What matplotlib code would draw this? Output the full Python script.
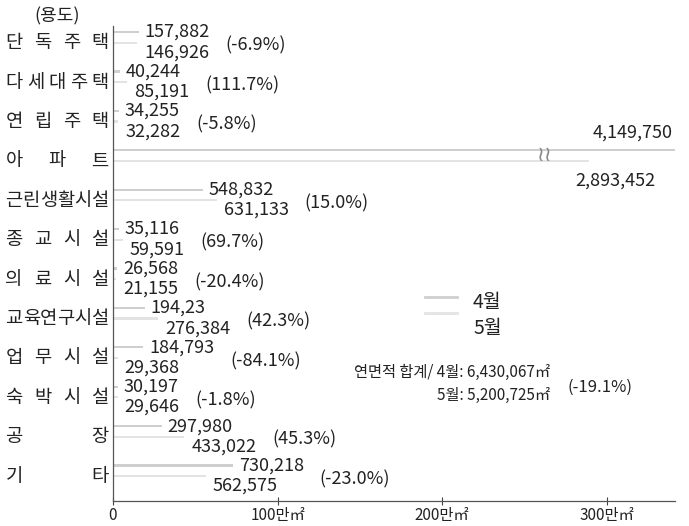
import numpy as np
import matplotlib
matplotlib.use('Agg')
import matplotlib.pyplot as plt
from matplotlib.transforms import blended_transform_factory

plt.rcParams['font.family'] = ['Noto Sans CJK KR', 'DejaVu Sans']

# 용도별 건축 허가 연면적 (㎡) - 4월 / 5월
cats = ['단독주택', '다세대주택', '연립주택', '아파트', '근린생활시설', '종교시설',
        '의료시설', '교육연구시설', '업무시설', '숙박시설', '공장', '기타']
apr = [157882, 40244, 34255, 4149750, 548832, 35116, 26568, 194230, 184793, 30197, 297980, 730218]
may = [146926, 85191, 32282, 2893452, 631133, 59591, 21155, 276384, 29368, 29646, 433022, 562575]
apr_txt = ['157,882', '40,244', '34,255', '4,149,750', '548,832', '35,116', '26,568',
           '194,23', '184,793', '30,197', '297,980', '730,218']
may_txt = ['146,926', '85,191', '32,282', '2,893,452', '631,133', '59,591', '21,155',
           '276,384', '29,368', '29,646', '433,022', '562,575']
pct = ['(-6.9%)', '(111.7%)', '(-5.8%)', '', '(15.0%)', '(69.7%)', '(-20.4%)',
       '(42.3%)', '(-84.1%)', '(-1.8%)', '(45.3%)', '(-23.0%)']
xticks = [0, 1000000, 2000000, 3000000]
xtick_labels = ['0', '100만㎡', '200만㎡', '300만㎡']
total_lines = ['연면적 합계/ 4월: 6,430,067㎡', '5월: 5,200,725㎡']
total_pct = '(-19.1%)'

W, H = 689, 526
apr_color = '#cfcfcf'
may_color = '#e3e3e3'
txt_color = '#222'

fig = plt.figure(figsize=(W / 100, H / 100), dpi=100)
ax = fig.add_axes([113 / W, 25 / H, (675 - 113) / W, (501 - 25) / H])

y = np.arange(len(cats))
xmax = 3416000
ax.barh(y - 0.27, apr, height=0.055, color=apr_color, linewidth=0)
ax.barh(y + 0.0, may, height=0.055, color=may_color, linewidth=0)
ax.set_xlim(0, xmax)
ax.set_ylim(11.63, -0.45)

break_row = cats.index('아파트')

# value labels
vtexts = []
for i in range(len(cats)):
    if i == break_row:
        ax.annotate(apr_txt[i], (1.0, i - 0.27), xycoords=('axes fraction', 'data'),
                    xytext=(-2, 13), textcoords='offset points', ha='right', va='center',
                    fontsize=13, color=txt_color)
        ax.annotate(may_txt[i], (1.0, i), xycoords=('axes fraction', 'data'),
                    xytext=(-14, -14), textcoords='offset points', ha='right', va='center',
                    fontsize=13, color=txt_color)
        ax.text(2626000, i - 0.15, '≀≀', fontsize=15, color='#888', ha='center', va='center',
                family='DejaVu Sans')
        vtexts.append(None)
        continue
    t1 = ax.annotate(apr_txt[i], (apr[i], i - 0.27), xytext=(4, 0), textcoords='offset points',
                     ha='left', va='center', fontsize=13, color=txt_color)
    t2 = ax.annotate(may_txt[i], (may[i], i), xytext=(5, -7), textcoords='offset points',
                     ha='left', va='center', fontsize=13, color=txt_color)
    vtexts.append((t1, t2))

# category labels, spread out across the label column
tr = blended_transform_factory(fig.transFigure, ax.transData)
for i, name in enumerate(cats):
    xs = np.linspace(14, 100, len(name))
    for ch, xp in zip(name, xs):
        ax.text(xp / W, i, ch, transform=tr, ha='center', va='center', fontsize=13.5,
                color=txt_color, clip_on=False)
fig.text(34 / W, 1 - 16 / H, '(용도)', fontsize=13, va='center', ha='left', color=txt_color)

# percent labels placed after the value labels
fig.canvas.draw()
renderer = fig.canvas.get_renderer()
inv = ax.transData.inverted()
for i, pair in enumerate(vtexts):
    if pair is None or not pct[i]:
        continue
    x_end = max(t.get_window_extent(renderer).x1 for t in pair)
    ydisp = ax.transData.transform((0, i))[1] - 3
    xd, yd = inv.transform((x_end + 16, ydisp))
    ax.text(xd, yd, pct[i], ha='left', va='center', fontsize=13, color=txt_color)

# legend
ax.plot([0.555, 0.612], [0.4286, 0.4286], transform=ax.transAxes, color=apr_color, lw=2, clip_on=False)
ax.plot([0.555, 0.612], [0.395, 0.395], transform=ax.transAxes, color=may_color, lw=2, clip_on=False)
ax.text(0.6406, 0.418, '4월', transform=ax.transAxes, fontsize=14, va='center', color=txt_color)
ax.text(0.6406, 0.363, '5월', transform=ax.transAxes, fontsize=14, va='center', color=txt_color)

# totals
ax.text(0.7776, 0.269, total_lines[0], transform=ax.transAxes, ha='right', va='center',
        fontsize=11, color=txt_color)
ax.text(0.7776, 0.2227, total_lines[1], transform=ax.transAxes, ha='right', va='center',
        fontsize=11, color=txt_color)
ax.text(0.8096, 0.2395, total_pct, transform=ax.transAxes, ha='left', va='center',
        fontsize=12, color=txt_color)

# axes styling
ax.set_xticks(xticks)
ax.set_xticklabels(xtick_labels, fontsize=11, color=txt_color)
ax.tick_params(axis='x', direction='inout', length=6, width=0.8, color='#444', pad=1)
ax.set_yticks([])
ax.spines['top'].set_visible(False)
ax.spines['right'].set_visible(False)
ax.spines['left'].set_color('#555')
ax.spines['left'].set_linestyle((0, (2, 1)))
ax.spines['left'].set_linewidth(0.9)
ax.spines['bottom'].set_color('#555')
ax.spines['bottom'].set_linewidth(0.9)

fig.savefig('out.png', dpi=100)
